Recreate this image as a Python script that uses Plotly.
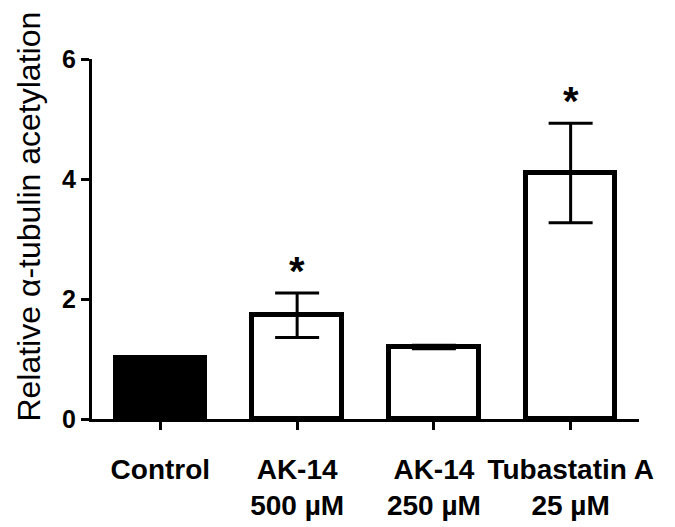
import plotly.graph_objects as go

categories = ["Control", "AK-14<br>500 µM", "AK-14<br>250 µM", "Tubastatin A<br>25 µM"]
means = [1.02, 1.73, 1.20, 4.10]
errors = [0.0, 0.37, 0.03, 0.83]
significant = [False, True, False, True]
fill_colors = ["black", "white", "white", "white"]
y_ticks = [0, 2, 4, 6]

FONT = "Arial, 'Liberation Sans', sans-serif"

fig = go.Figure()
fig.add_trace(go.Bar(
    x=list(range(len(categories))),
    y=means,
    width=0.655,
    marker=dict(color=fill_colors, line=dict(color="black", width=5)),
    error_y=dict(type="data", array=errors, visible=True, color="black",
                 thickness=3, width=22),
    showlegend=False,
))

for i, (m, e, s) in enumerate(zip(means, errors, significant)):
    if s:
        fig.add_annotation(x=i, y=m + e, text="<b>*</b>", showarrow=False,
                           xref="x", yref="y", yanchor="bottom", yshift=-2,
                           font=dict(family=FONT, size=40, color="black"))

fig.add_annotation(text="Relative α-tubulin acetylation", textangle=-90,
                   xref="paper", yref="paper", x=-0.116, y=0.561,
                   xanchor="center", yanchor="middle", showarrow=False,
                   font=dict(family=FONT, size=32, color="black"))

# page body has an 8px default margin, so margins are offset by 8px
fig.update_layout(
    width=675, height=527,
    margin=dict(l=84, r=44, t=51, b=116, pad=0),
    plot_bgcolor="white", paper_bgcolor="white",
    bargap=0,
    font=dict(family=FONT, color="black"),
)
fig.update_xaxes(
    range=[-0.5, 3.5],
    tickmode="array", tickvals=list(range(len(categories))),
    ticktext=["<b>" + c.replace("<br>", "</b><br><b>") + "</b>" for c in categories],
    showline=True, linecolor="black", linewidth=3,
    ticks="outside", ticklen=8, tickwidth=3, tickcolor="black",
    showgrid=False, zeroline=False,
    tickfont=dict(family=FONT, size=28, color="black"),
    ticklabelstandoff=15,
)
fig.update_yaxes(
    range=[0, 6],
    tickmode="array", tickvals=y_ticks,
    ticktext=["<b>%d</b>" % t for t in y_ticks],
    showline=True, linecolor="black", linewidth=3,
    ticks="outside", ticklen=8, tickwidth=3, tickcolor="black",
    showgrid=False, zeroline=False,
    tickfont=dict(family=FONT, size=25, color="black"),
)

fig.write_html("out.html")
